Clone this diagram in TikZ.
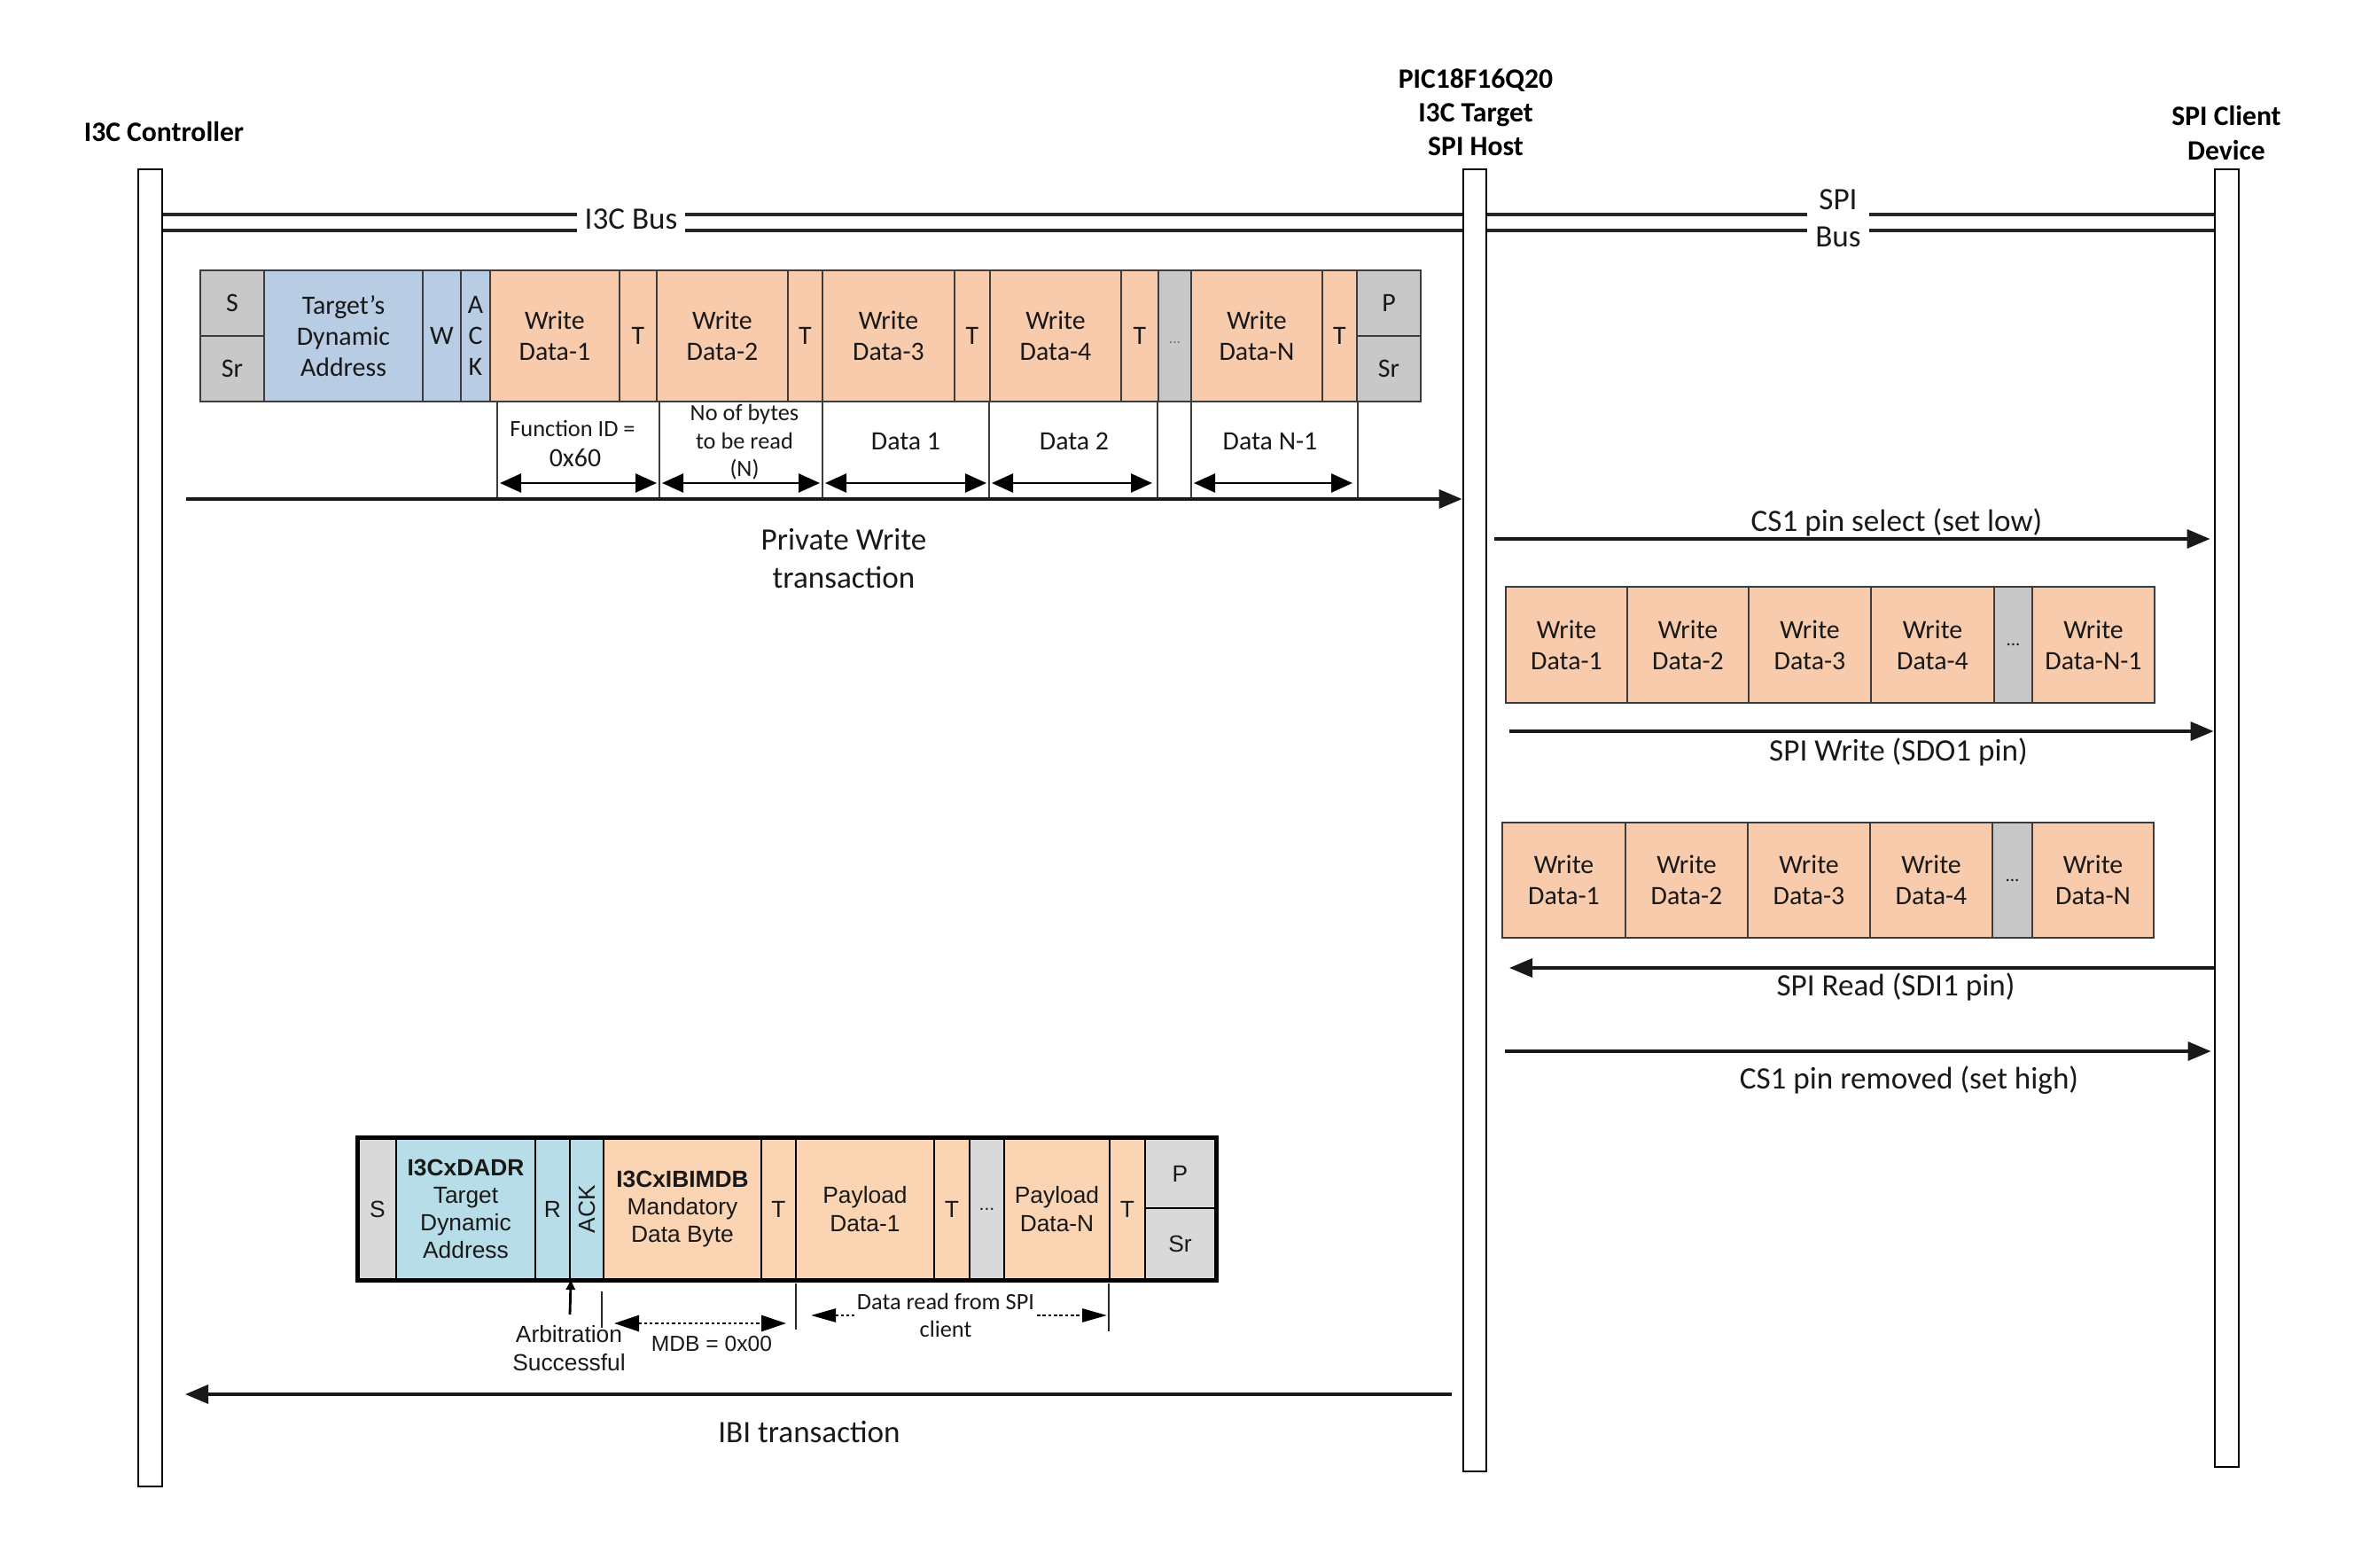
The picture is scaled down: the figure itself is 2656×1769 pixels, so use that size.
\documentclass[tikz,border=0pt]{standalone}
\usepackage{fontspec}
\usepackage{graphicx}
\setmainfont{Carlito}
\newfontfamily\arialfont{Liberation Sans}
\usetikzlibrary{arrows.meta,calc}

\definecolor{cgrey}{RGB}{200,200,200}
\definecolor{cblue}{RGB}{184,204,228}
\definecolor{cpeach}{RGB}{248,203,173}
\definecolor{ccyan}{RGB}{183,222,232}
\definecolor{cpeachb}{RGB}{251,212,180}
\definecolor{cgreyb}{RGB}{217,217,217}
\definecolor{cborder}{RGB}{60,60,60}
\definecolor{ctext}{RGB}{25,25,25}

\newcommand{\cellbox}[7]{%
  \pgfmathsetmacro{\cellW}{(#3-#2)*0.1}%
  \pgfmathsetmacro{\cellH}{(#5-#4)*0.1}%
  \node[#6, minimum width=\cellW mm, minimum height=\cellH mm] (#1) at ({(#2+#3)/2},{(#4+#5)/2}) {#7};%
}

\tikzset{
  cellA/.style={draw=cborder, line width=0.6pt, inner sep=0pt, align=center, text=ctext,
    font=\fontsize{8.5}{10}\selectfont},
  cellB/.style={draw=black, line width=0.6pt, inner sep=0pt, align=center, text=ctext,
    font=\arialfont\fontsize{7.5}{8.9}\selectfont},
  lifeline/.style={draw=black, fill=white, line width=0.8pt, inner sep=0pt},
  busline/.style={draw=black!85, line width=0.9pt},
  sigarrow/.style={draw=black!90, line width=1pt, -{Triangle[length=2.6mm,width=2.1mm]}},
  dimarrow/.style={draw=black, line width=0.8pt, {Triangle[length=2.4mm,width=2.1mm]}-{Triangle[length=2.4mm,width=2.1mm]}},
  dotarrow/.style={draw=black, line width=0.8pt, dash pattern=on 1pt off 0.8pt,
    {Triangle[length=2.8mm,width=1.8mm]}-{Triangle[length=2.8mm,width=1.8mm]}},
  tick/.style={draw=cborder, line width=0.6pt},
  btick/.style={draw=black!85, line width=0.8pt},
  head/.style={font=\bfseries\fontsize{9}{10.8}\selectfont, align=center, inner sep=0pt},
  lbl/.style={font=\fontsize{10}{12.2}\selectfont, align=center, inner sep=0pt, text=ctext},
  slbl/.style={font=\fontsize{7.5}{9}\selectfont, align=center, inner sep=0pt, text=ctext},
  mlbl/.style={font=\fontsize{8.5}{10}\selectfont, align=center, inner sep=0pt, text=ctext},
  albl/.style={font=\arialfont\fontsize{7.5}{9}\selectfont, align=center, inner sep=0pt, text=ctext},
}

\begin{document}
\begin{tikzpicture}[x=0.1mm, y=-0.1mm]
\useasboundingbox (0,0) rectangle (2656,1769);

% ---------- headers ----------
\node[head] (hctrl) at (185,149) {I3C Controller};
\node[head, font=\bfseries\fontsize{9}{10.8}\selectfont] (hpic) at (1665,127) {PIC18F16Q20\\I3C Target\\SPI Host};
\node[head, font=\bfseries\fontsize{9}{11.3}\selectfont] (hspi) at (2512,150) {SPI Client\\Device};

% ---------- bus labels ----------
\node[lbl, inner xsep=0.8mm] (i3cbus) at (712,247) {I3C Bus};
\node[lbl, font=\fontsize{10}{11.9}\selectfont, inner xsep=0.9mm] (spibus) at (2074,246) {SPI\\Bus};
\coordinate (ba) at (0,242);
\coordinate (bb) at (0,260);

% bus lines (lifelines drawn over them)
\draw[busline] (183,242) -- (i3cbus.west |- ba);
\draw[busline] (183,260) -- (i3cbus.west |- bb);
\draw[busline] (i3cbus.east |- ba) -- (spibus.west |- ba);
\draw[busline] (i3cbus.east |- bb) -- (spibus.west |- bb);
\draw[busline] (spibus.east |- ba) -- (2499,242);
\draw[busline] (spibus.east |- bb) -- (2499,260);

% ---------- lifelines ----------
\cellbox{ctrl}{156}{183}{191}{1677}{lifeline}{}
\cellbox{pic}{1651}{1677}{191}{1660}{lifeline}{}
\cellbox{spi}{2499}{2526}{191}{1655}{lifeline}{}

% ---------- top frame: private write ----------
\cellbox{tS}{226}{298}{305}{379}{cellA,fill=cgrey}{S}
\cellbox{tSr}{226}{298}{379}{453}{cellA,fill=cgrey}{Sr}
\cellbox{tAddr}{298}{477}{305}{453}{cellA,fill=cblue}{Target’s\\Dynamic\\Address}
\cellbox{tW}{477}{520}{305}{453}{cellA,fill=cblue}{W}
\cellbox{tAck}{520}{553}{305}{453}{cellA,fill=cblue}{A\\C\\K}
\cellbox{tD1}{553}{699}{305}{453}{cellA,fill=cpeach}{Write\\Data-1}
\cellbox{tT1}{699}{741}{305}{453}{cellA,fill=cpeach}{T}
\cellbox{tD2}{741}{889}{305}{453}{cellA,fill=cpeach}{Write\\Data-2}
\cellbox{tT2}{889}{928}{305}{453}{cellA,fill=cpeach}{T}
\cellbox{tD3}{928}{1077}{305}{453}{cellA,fill=cpeach}{Write\\Data-3}
\cellbox{tT3}{1077}{1117}{305}{453}{cellA,fill=cpeach}{T}
\cellbox{tD4}{1117}{1265}{305}{453}{cellA,fill=cpeach}{Write\\Data-4}
\cellbox{tT4}{1265}{1307}{305}{453}{cellA,fill=cpeach}{T}
\cellbox{tDots}{1307}{1344}{305}{453}{cellA,fill=cgrey,text=black!55,font=\fontsize{5}{6}\selectfont}{\raisebox{-1.8mm}{...}}
\cellbox{tDN}{1344}{1492}{305}{453}{cellA,fill=cpeach}{Write\\Data-N}
\cellbox{tTN}{1492}{1531}{305}{453}{cellA,fill=cpeach}{T}
\cellbox{tP}{1531}{1603}{305}{379}{cellA,fill=cgrey}{P}
\cellbox{tSr2}{1531}{1603}{379}{453}{cellA,fill=cgrey}{Sr}

% ticks under the frame
\foreach \xx in {561,744,928,1116,1306,1344,1532}{
  \draw[tick] (\xx,453) -- (\xx,563);
}
\coordinate (d1) at (561,545);
\coordinate (d2) at (744,545);
\coordinate (d3) at (928,545);
\coordinate (d4) at (1116,545);
\coordinate (d5) at (1306,545);
\coordinate (d6) at (1344,545);
\coordinate (d7) at (1532,545);
\draw[dimarrow, shorten <=0.3mm, shorten >=0.3mm] (d1) -- (d2);
\draw[dimarrow, shorten <=0.3mm, shorten >=0.3mm] (d2) -- (d3);
\draw[dimarrow, shorten <=0.3mm, shorten >=0.3mm] (d3) -- (d4);
\draw[dimarrow, shorten <=0.3mm, shorten >=0.6mm] (d4) -- (d5);
\draw[dimarrow, shorten <=0.3mm, shorten >=0.6mm] (d6) -- (d7);

\node[slbl] (lfid) at (646,483) {Function ID =};
\node[mlbl] (l0x60) at (649,517) {0x60};
\node[slbl] (lnob) at (840,499) {No of bytes\\to be read\\(N)};
\node[mlbl] (ld1) at (1022,498) {Data 1};
\node[mlbl] (ld2) at (1212,498) {Data 2};
\node[mlbl] (ldn) at (1433,498) {Data N-1};

% private write arrow
\coordinate (pws) at (210,563);
\draw[sigarrow] (pws) -- (pic.west |- pws);
\node[lbl] (lpw) at (952,630) {Private Write\\transaction};

% ---------- right side: SPI ----------
\coordinate (cs1s) at (1686,608);
\draw[sigarrow] (cs1s) -- ([xshift=-0.4mm]spi.west |- cs1s);
\node[lbl] (lcs1) at (2140,589) {CS1 pin select (set low)};

\cellbox{wD1}{1699}{1836}{662}{793}{cellA,fill=cpeach}{Write\\Data-1}
\cellbox{wD2}{1836}{1973}{662}{793}{cellA,fill=cpeach}{Write\\Data-2}
\cellbox{wD3}{1973}{2111}{662}{793}{cellA,fill=cpeach}{Write\\Data-3}
\cellbox{wD4}{2111}{2250}{662}{793}{cellA,fill=cpeach}{Write\\Data-4}
\cellbox{wDots}{2250}{2293}{662}{793}{cellA,fill=cgrey,font=\fontsize{6}{7}\selectfont}{...}
\cellbox{wDN}{2293}{2431}{662}{793}{cellA,fill=cpeach}{Write\\Data-N-1}

\coordinate (sdos) at (1703,825);
\draw[sigarrow] (sdos) -- (spi.west |- sdos);
\node[lbl] (lsdo) at (2142,848) {SPI Write (SDO1 pin)};

\cellbox{rD1}{1695}{1834}{928}{1058}{cellA,fill=cpeach}{Write\\Data-1}
\cellbox{rD2}{1834}{1972}{928}{1058}{cellA,fill=cpeach}{Write\\Data-2}
\cellbox{rD3}{1972}{2110}{928}{1058}{cellA,fill=cpeach}{Write\\Data-3}
\cellbox{rD4}{2110}{2248}{928}{1058}{cellA,fill=cpeach}{Write\\Data-4}
\cellbox{rDots}{2248}{2293}{928}{1058}{cellA,fill=cgrey,font=\fontsize{6}{7}\selectfont}{...}
\cellbox{rDN}{2293}{2430}{928}{1058}{cellA,fill=cpeach}{Write\\Data-N}

\coordinate (sdie) at (1703,1092);
\draw[sigarrow] (spi.west |- sdie) -- (sdie);
\node[lbl] (lsdi) at (2139,1113) {SPI Read (SDI1 pin)};

\coordinate (cs1h) at (1698,1186);
\draw[sigarrow] (cs1h) -- ([xshift=-0.3mm]spi.west |- cs1h);
\node[lbl] (lcs1h) at (2154,1219) {CS1 pin removed (set high)};

% ---------- bottom frame: IBI ----------
\cellbox{bS}{405}{447}{1285}{1443}{cellB,fill=cgreyb}{S}
\cellbox{bAddr}{447}{604}{1285}{1443}{cellB,fill=ccyan}{\textbf{I3CxDADR}\\Target\\Dynamic\\Address}
\cellbox{bR}{604}{643}{1285}{1443}{cellB,fill=ccyan}{R}
\cellbox{bAck}{643}{681}{1285}{1443}{cellB,fill=ccyan}{\rotatebox{90}{ACK}}
\cellbox{bMDB}{681}{859}{1285}{1443}{cellB,fill=cpeachb}{\textbf{I3CxIBIMDB}\\Mandatory\\Data Byte}
\cellbox{bT1}{859}{898}{1285}{1443}{cellB,fill=cpeachb}{T}
\cellbox{bPD1}{898}{1054}{1285}{1443}{cellB,fill=cpeachb}{Payload\\Data-1}
\cellbox{bT2}{1054}{1094}{1285}{1443}{cellB,fill=cpeachb}{T}
\cellbox{bDots}{1094}{1133}{1285}{1443}{cellB,fill=cgreyb,font=\arialfont\fontsize{6}{7}\selectfont}{...}
\cellbox{bPDN}{1133}{1252}{1285}{1443}{cellB,fill=cpeachb}{Payload\\Data-N}
\cellbox{bT3}{1252}{1292}{1285}{1443}{cellB,fill=cpeachb}{T}
\cellbox{bP}{1292}{1371}{1285}{1363}{cellB,fill=cgreyb}{P}
\cellbox{bSr}{1292}{1371}{1363}{1443}{cellB,fill=cgreyb}{Sr}
\draw[line width=1.4pt] (bS.north west) rectangle (bSr.south east);

% annotations under IBI frame
\coordinate (arbt) at (643,1483);
\draw[line width=0.8pt, -{Triangle[length=1.1mm,width=1mm]}] (arbt) -- (bR.south east);
\node[albl] (larb) at (642,1521) {Arbitration\\Successful};
\draw[btick] (679,1457) -- (679,1498);
\draw[btick] (898,1448) -- (898,1500);
\draw[btick] (1251,1448) -- (1251,1502);
\coordinate (m1) at (693,1493);
\coordinate (m2) at (887,1493);
\draw[dotarrow] (m1) -- (m2);
\node[albl, font=\arialfont\fontsize{7}{8.4}\selectfont] (lmdb) at (803,1516) {MDB = 0x00};
\coordinate (r1) at (915,1484);
\coordinate (r2) at (1249,1484);
\draw[dotarrow, {Triangle[length=2.8mm,width=1.5mm]}-{Triangle[length=2.8mm,width=1.5mm]}] (r1) -- (r2);
\node[slbl, fill=white, inner xsep=0.3mm, inner ysep=0pt] (lrd) at (1067,1484) {Data read from SPI\\client};

% IBI arrow
\coordinate (ibis) at (1638,1573);
\coordinate (ibie) at (209,1573);
\draw[sigarrow] (ibis) -- (ibie);
\node[lbl] (libi) at (913,1615) {IBI transaction};

\end{tikzpicture}
\end{document}
